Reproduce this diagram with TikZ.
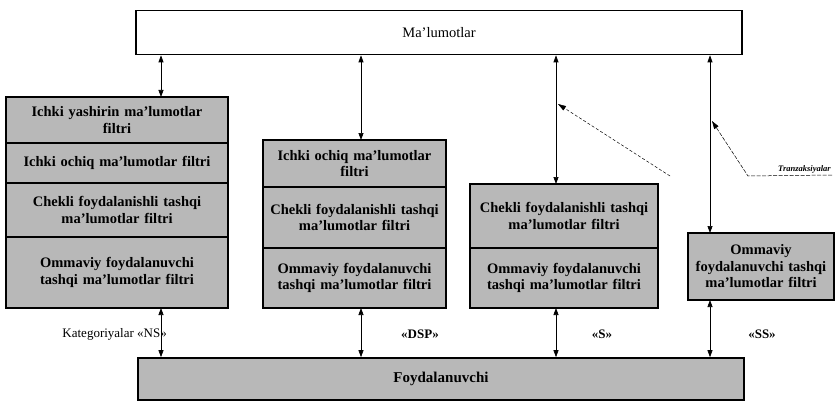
\documentclass[tikz,border=0pt]{standalone}
\usepackage{fontspec}
\setmainfont{Liberation Serif}
\usetikzlibrary{positioning, arrows.meta}

\begin{document}
\begin{tikzpicture}[
    x=1pt, y=-1pt, font=\fontsize{14.5}{16.5}\selectfont\bfseries, node distance=0pt,
    mainbox/.style={draw=black, fill=white, line width=1.6pt, minimum width=606pt,
                    minimum height=44pt, font=\fontsize{14.5}{17}\selectfont\mdseries},
    filt/.style={draw=black, fill=black!28, line width=1.5pt, outer sep=0pt,
                 align=center, inner xsep=0pt, inner ysep=2pt, text width=#1},
    userbox/.style={draw=black, fill=black!28, line width=1.6pt, minimum width=606pt,
                    minimum height=42pt, font=\fontsize{15}{17}\selectfont\bfseries},
    lbl/.style={inner sep=1pt, font=\fontsize{13}{15}\selectfont\bfseries},
    link/.style={{Triangle[length=7pt, width=5pt]}-{Triangle[length=7pt, width=5pt]},
                 line width=0.7pt},
    trlink/.style={-{Triangle[length=8pt, width=5pt]}, line width=0.5pt}
]
\useasboundingbox (0,0) rectangle (836,404);
% top and bottom boxes
\node[mainbox] (info) at (439,32.5) {Ma’lumotlar};
\node[userbox] (user) at (441,379) {Foydalanuvchi};

% category NS
\node[filt=222pt, minimum height=46pt] (l1) at (117,120) {Ichki yashirin ma’lumotlar\\filtri};
\node[filt=222pt, minimum height=40pt, below=of l1] (l2) {Ichki ochiq ma’lumotlar filtri};
\node[filt=222pt, minimum height=54pt, below=of l2] (l3) {Chekli foydalanishli tashqi\\ma’lumotlar filtri};
\node[filt=222pt, minimum height=71pt, below=of l3] (l4) {Ommaviy foydalanuvchi\\tashqi ma’lumotlar filtri};

% category DSP
\node[filt=183pt, minimum height=47pt] (m1) at (354.5,163.5) {Ichki ochiq ma’lumotlar\\filtri};
\node[filt=183pt, minimum height=61pt, below=of m1] (m2) {Chekli foydalanishli tashqi\\ma’lumotlar filtri};
\node[filt=183pt, minimum height=60pt, below=of m2] (m3) {Ommaviy foydalanuvchi\\tashqi ma’lumotlar filtri};

% category S
\node[filt=188pt, minimum height=64pt] (s1) at (564,216) {Chekli foydalanishli tashqi\\ma’lumotlar filtri};
\node[filt=188pt, minimum height=60pt, below=of s1] (s2) {Ommaviy foydalanuvchi\\tashqi ma’lumotlar filtri};

% category SS
\node[filt=146pt, minimum height=67pt] (ss) at (761,266.5) {Ommaviy\\foydalanuvchi tashqi\\ma’lumotlar filtri};

% links
\coordinate (x1) at (161,0);
\coordinate (x2) at (361,0);
\coordinate (x3) at (556,0);
\coordinate (x4) at (710,0);
\foreach \c/\t/\b in {x1/l1/l4, x2/m1/m3, x3/s1/s2, x4/ss/ss}{
  \draw[link] (info.south -| \c) -- (\t.north -| \c);
  \draw[link] (\b.south -| \c) -- (user.north -| \c);
}

\node[lbl, anchor=east, font=\fontsize{13}{15}\selectfont\mdseries] (kns) at (168,334) {Kategoriyalar «NS»};
\node[lbl] (kdsp) at (420,334) {«DSP»};
\node[lbl] (ks) at (602,334) {«S»};
\node[lbl] (kss) at (762,334) {«SS»};

% transactions
\node[inner sep=1pt, anchor=south east, font=\fontsize{8.5}{9}\selectfont\itshape\bfseries]
      (trl) at (832,175) {Tranzaksiyalar};
\coordinate (tbend) at (748,176);
\coordinate (t3) at (558,104);
\coordinate (t3s) at (670,176);
\coordinate (t4) at (712,121);
\draw[trlink, dash pattern=on 4pt off 1.5pt] (trl.south east) -- (tbend) -- (t4);
\draw[trlink, densely dashed] (t3s) -- (t3);
\end{tikzpicture}
\end{document}
